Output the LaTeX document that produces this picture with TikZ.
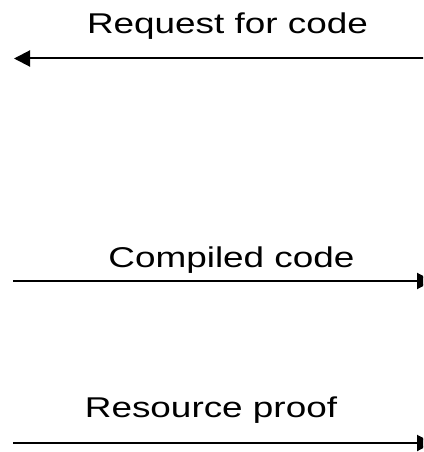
\documentclass[tikz,border=0pt]{standalone}
\usepackage{fontspec}
\setmainfont{Liberation Sans}
\usetikzlibrary{arrows.meta}
\begin{document}
\begin{tikzpicture}[x=1pt,y=-1pt,
  lbl/.style={font=\fontsize{28.6}{34}\selectfont, anchor=base, xscale=1.29, inner sep=0pt},
  msg/.style={line width=2pt, -{Triangle[length=16pt,width=16pt]}}]
\useasboundingbox (0,0) rectangle (423,452);
\clip (0,0) rectangle (423,452);
% labels
\node[lbl] (l1) at (227.5,34) {Request for code};
\node[lbl] (l2) at (231.5,267) {Compiled code};
\node[lbl] (l3) at (211,417) {Resource proof};
% endpoints
\coordinate (a1s) at (428,58.5);
\coordinate (a1e) at (14,58.5);
\coordinate (a2s) at (13,281);
\coordinate (a2e) at (433,281);
\coordinate (a3s) at (13,443);
\coordinate (a3e) at (433,443);
\draw[msg] (a1s) -- (a1e);
\draw[msg] (a2s) -- (a2e);
\draw[msg] (a3s) -- (a3e);
\end{tikzpicture}
\end{document}
